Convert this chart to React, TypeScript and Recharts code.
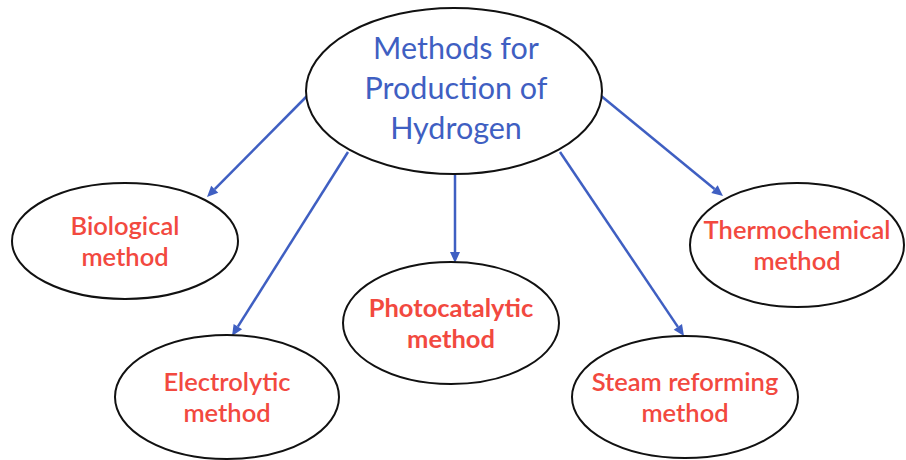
import { ScatterChart, Scatter, XAxis, YAxis, ReferenceLine } from "recharts";

// nodes of the diagram (positions in the 906x460 frame)
const nodeLabels = [
  ["Methods for", "Production of", "Hydrogen"],
  ["Biological", "method"],
  ["Electrolytic", "method"],
  ["Photocatalytic", "method"],
  ["Steam reforming", "method"],
  ["Thermochemical", "method"],
];
const nodeX = [454, 125, 227, 451, 685, 797];
const nodeY = [91, 241, 397, 323, 397, 245];
const nodeRx = [148, 113, 112, 108, 113, 107];
const nodeRy = [83, 58, 62, 61, 61, 62];

// arrows from the central node to each method
const arrowFrom = [
  [307, 96],
  [348, 152],
  [455, 175],
  [560, 152],
  [600, 95],
];
const arrowTo = [
  [207, 197],
  [232, 336],
  [455, 263],
  [684, 336],
  [723, 196],
];

const nodes = nodeLabels.map((lines, i) => ({
  x: nodeX[i],
  y: nodeY[i],
  rx: nodeRx[i],
  ry: nodeRy[i],
  lines,
  main: i === 0,
  bold: i === 3,
}));

const BLUE = "#3f5fc2";
const RED = "#f2493f";

const NodeShape = (props: any) => {
  const { cx, cy, payload } = props;
  const lh = payload.main ? 40 : 31;
  const fs = payload.main ? 30.5 : 25.5;
  const n = payload.lines.length;
  return (
    <g>
      <ellipse cx={cx} cy={cy} rx={payload.rx} ry={payload.ry} fill="#fff" stroke="#111" strokeWidth={2} />
      {payload.lines.map((t: string, i: number) => (
        <text
          key={i}
          x={cx + (payload.main ? 2 : 0)}
          y={cy + (i - (n - 1) / 2) * lh + fs * 0.36 - (payload.main ? 3 : 0)}
          textAnchor="middle"
          fontFamily="Lato, 'Open Sans', sans-serif"
          fontSize={fs}
          fontWeight={payload.bold ? 700 : payload.main ? 400 : 600}
          fill={payload.main ? BLUE : RED}
        >
          {t}
        </text>
      ))}
    </g>
  );
};

const Arrow = (props: any) => {
  const { x1, y1, x2, y2 } = props;
  const a = Math.atan2(y2 - y1, x2 - x1);
  const len = 11;
  const w = 5;
  const bx = x2 - len * Math.cos(a);
  const by = y2 - len * Math.sin(a);
  const px = -Math.sin(a) * w;
  const py = Math.cos(a) * w;
  return (
    <g>
      <line x1={x1} y1={y1} x2={bx} y2={by} stroke={BLUE} strokeWidth={2.5} />
      <polygon points={`${x2},${y2} ${bx + px},${by + py} ${bx - px},${by - py}`} fill={BLUE} />
    </g>
  );
};

const App = () => (
  <div style={{ position: "absolute", left: 0, top: 0, width: 906, height: 460, background: "#fff" }}>
    <ScatterChart width={906} height={460} margin={{ top: 0, right: 0, bottom: 0, left: 0 }}>
      <XAxis type="number" dataKey="x" domain={[0, 906]} hide />
      <YAxis type="number" dataKey="y" domain={[0, 460]} reversed hide />
      {arrowFrom.map((f, i) => (
        <ReferenceLine
          key={i}
          segment={[
            { x: f[0], y: f[1] },
            { x: arrowTo[i][0], y: arrowTo[i][1] },
          ]}
          ifOverflow="visible"
          shape={Arrow}
        />
      ))}
      <Scatter data={nodes} shape={NodeShape} isAnimationActive={false} />
    </ScatterChart>
  </div>
);

export default App;
